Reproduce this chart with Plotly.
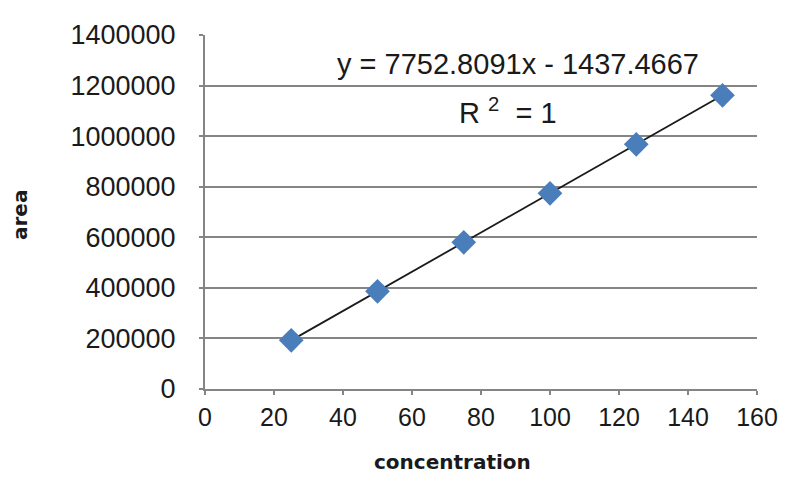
import plotly.graph_objects as go

concentration = [25, 50, 75, 100, 125, 150]
area = [192383, 386203, 580024, 773844, 967664, 1161484]
x_ticks = [0, 20, 40, 60, 80, 100, 120, 140, 160]
y_ticks = [0, 200000, 400000, 600000, 800000, 1000000, 1200000, 1400000]
y_tick_labels = ["0", "200000", "400000", "600000", "800000", "1000000", "1200000", "1400000"]
equation_text = "y = 7752.8091x - 1437.4667"
r2_text = "R <sup>2</sup>  = 1"
x_title = "concentration"
y_title = "area"

# page is rendered with an 8px body offset
OFF = 8
FW, FH = 787 - OFF, 499 - OFF
L, R, T, B = 205, 757, 35, 389   # plot area in screen pixels
W, H = R - L, B - T


def px(x):
    return (x - L) / W


def py(y):
    return (B - y) / H


fig = go.Figure()
fig.add_trace(go.Scatter(x=concentration, y=area, mode="lines",
                         line=dict(color="#1a1a1a", width=1.8), showlegend=False, hoverinfo="skip"))
fig.add_trace(go.Scatter(x=concentration, y=area, mode="markers",
                         marker=dict(symbol="diamond", size=19, color="#4a7ebb"),
                         showlegend=False))

txt_font = dict(family="Liberation Sans, Arial", size=29, color="#1a1a1a")
fig.add_annotation(xref="paper", yref="paper", x=px(518), y=py(64),
                   xanchor="center", yanchor="middle",
                   text=equation_text, showarrow=False, font=txt_font)
fig.add_annotation(xref="paper", yref="paper", x=px(508), y=py(111),
                   xanchor="center", yanchor="middle",
                   text=r2_text, showarrow=False, font=txt_font)
title_font = dict(family="DejaVu Sans", size=20, color="#1a1a1a")
fig.add_annotation(xref="paper", yref="paper", x=px(452), y=py(462),
                   xanchor="center", yanchor="middle",
                   text="<b>%s</b>" % x_title, showarrow=False, font=title_font)
fig.add_annotation(xref="paper", yref="paper", x=px(20), y=py(215),
                   xanchor="center", yanchor="middle",
                   text="<b>%s</b>" % y_title, showarrow=False, font=title_font, textangle=-90)

fig.update_layout(
    width=FW, height=FH,
    margin=dict(l=L - OFF, r=787 - R, t=T - OFF, b=499 - B),
    paper_bgcolor="white", plot_bgcolor="white",
    font=dict(family="Liberation Sans, Arial", size=26, color="#1a1a1a"),
    xaxis=dict(range=[0, 160], tickvals=x_ticks, showgrid=False, automargin=False,
               showline=True, linecolor="#858585", linewidth=2,
               ticks="outside", ticklen=4, tickcolor="#858585", tickwidth=1.5,
               ticklabelstandoff=1,
               tickfont=dict(size=25)),
    yaxis=dict(range=[0, 1400000], tickvals=y_ticks, ticktext=y_tick_labels,
               showgrid=True, automargin=False,
               gridcolor="#858585", gridwidth=2.2, zeroline=False,
               showline=True, linecolor="#858585", linewidth=2,
               ticks="outside", ticklen=4, tickcolor="#858585", tickwidth=1.5,
               ticklabelstandoff=18,
               tickfont=dict(size=27)),
)

fig.write_html("out.html")
